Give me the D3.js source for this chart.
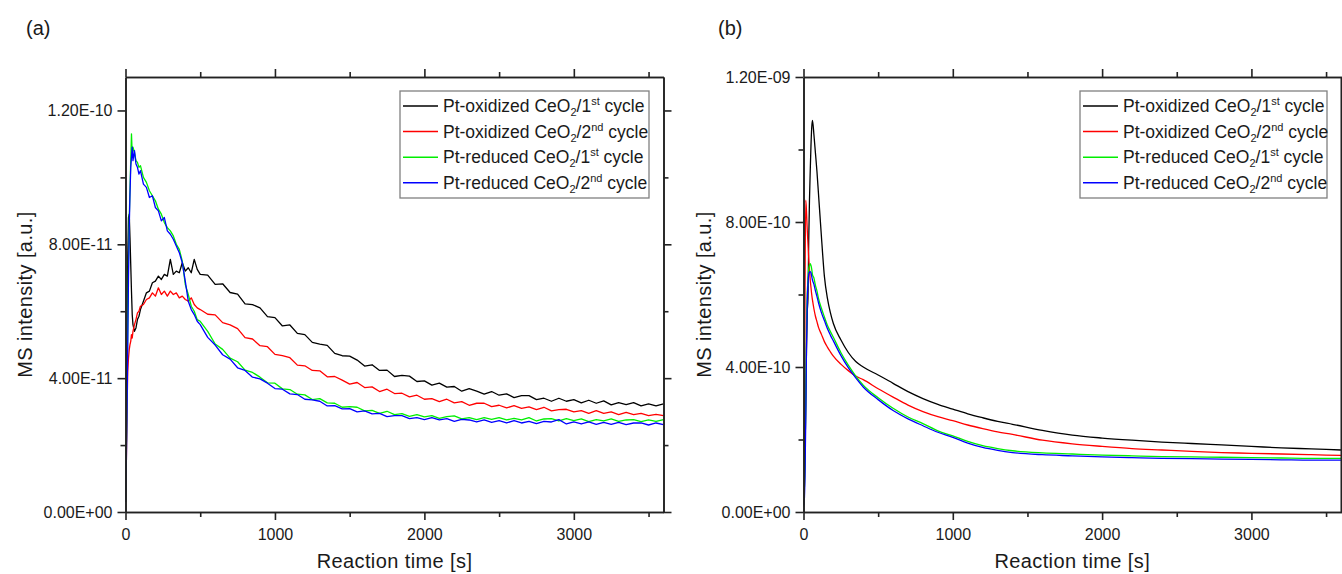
<!DOCTYPE html>
<html>
<head>
<meta charset="utf-8">
<script src="https://cdn.jsdelivr.net/npm/d3@7"></script>
<style>
  html, body { margin: 0; padding: 0; background: #fff; }
  #chart { width: 1342px; height: 574px; }
  text { font-family: "Liberation Sans", Arial, sans-serif; fill: #1a1a1a; }
</style>
</head>
<body>
<div id="chart"></div>
<script>
// ---- panel (a): values in units of 1E-11 ----
const timeA = [0,5,10,15,20,25,30,35,40,45,50,60,70,80,90,100,
  120,140,160,180,200,220,240,260,280,300,320,340,360,380,400,420,440,460,480,500,
  550,600,650,700,750,800,850,900,950,1000,1050,1100,1150,1200,1250,1300,1350,1400,1450,1500,
  1550,1600,1650,1700,1750,1800,1850,1900,1950,2000,2050,2100,2150,2200,2250,2300,2350,2400,2450,2500,
  2550,2600,2650,2700,2750,2800,2850,2900,2950,3000,3050,3100,3150,3200,3250,3300,3350,3400,3450,3500,
  3550,3600];
const oxid1A = [0.3,1.5,4.5,7.6,8.8,8.9,8.2,7.4,6.6,5.9,5.6,5.4,5.5,5.75,5.85,6.05,
  6.3,6.55,6.6,6.85,6.9,7.05,6.95,7.1,7.05,7.55,7.1,7.2,7.15,7.45,7.2,7.3,7.15,7.55,7.25,7.1,
  7.08,6.80,6.82,6.56,6.51,6.22,6.20,6.10,5.84,5.81,5.56,5.59,5.34,5.30,5.07,5.02,4.98,4.74,4.67,4.66,
  4.54,4.36,4.40,4.23,4.24,4.05,4.08,4.06,3.90,3.92,3.79,3.85,3.73,3.75,3.61,3.69,3.61,3.52,3.60,3.49,
  3.53,3.42,3.48,3.48,3.36,3.40,3.31,3.40,3.31,3.36,3.26,3.34,3.25,3.32,3.20,3.27,3.21,3.27,3.17,3.23,
  3.17,3.23];
const oxid2A = [0.3,1.2,3.0,4.2,4.6,4.85,5.0,5.1,5.3,5.2,5.4,5.6,5.75,5.95,6.0,6.15,
  6.2,6.35,6.4,6.55,6.45,6.7,6.5,6.6,6.45,6.6,6.5,6.55,6.4,6.45,6.35,6.3,6.4,6.2,6.1,6.05,
  5.91,5.89,5.66,5.59,5.48,5.21,5.17,4.97,4.94,4.71,4.67,4.61,4.39,4.37,4.23,4.22,4.04,4.05,3.94,3.82,
  3.87,3.72,3.74,3.60,3.67,3.54,3.55,3.44,3.49,3.37,3.39,3.30,3.37,3.26,3.30,3.19,3.25,3.25,3.15,3.19,
  3.11,3.18,3.10,3.14,3.06,3.13,3.02,3.06,3.07,2.99,3.03,2.95,3.03,2.95,2.99,2.91,2.98,2.91,2.95,2.88,
  2.92,2.88];
const redu1A = [0.3,1.5,3.5,5.5,7.5,8.8,9.6,10.5,11.3,10.7,10.9,10.75,10.5,10.45,10.3,10.35,
  10.0,9.85,9.6,9.45,9.3,9.05,8.9,8.65,8.5,8.4,8.25,8.0,7.85,7.5,6.8,6.5,6.15,6.0,5.75,5.7,
  5.40,5.02,4.86,4.60,4.49,4.24,4.17,4.03,3.86,3.85,3.68,3.66,3.52,3.50,3.36,3.39,3.26,3.25,3.13,3.15,
  3.13,3.02,3.04,2.95,3.01,2.91,2.94,2.86,2.91,2.84,2.88,2.80,2.85,2.87,2.78,2.82,2.76,2.82,2.77,2.82,
  2.75,2.80,2.75,2.82,2.72,2.78,2.79,2.72,2.79,2.73,2.78,2.70,2.76,2.72,2.78,2.71,2.75,2.76,2.70,2.75,
  2.71,2.76];
const redu2A = [0.3,1.2,3.0,5.0,7.0,8.5,9.5,10.3,10.6,10.9,10.5,10.8,10.4,10.3,10.1,10.2,
  9.8,9.7,9.4,9.45,9.1,9.0,8.7,8.8,8.4,8.3,8.15,7.95,7.75,7.45,6.9,6.3,6.05,5.9,5.7,5.6,
  5.22,4.99,4.70,4.57,4.31,4.23,4.03,3.98,3.85,3.69,3.67,3.53,3.51,3.37,3.35,3.31,3.17,3.18,3.08,3.09,
  2.99,3.02,2.93,2.95,2.85,2.88,2.88,2.79,2.82,2.76,2.82,2.75,2.79,2.71,2.77,2.75,2.69,2.75,2.68,2.73,
  2.66,2.73,2.66,2.71,2.64,2.71,2.69,2.76,2.63,2.69,2.63,2.69,2.62,2.68,2.62,2.68,2.61,2.66,2.66,2.60,
  2.66,2.61];

// ---- panel (b): values in units of 1E-10 ----
const timeB = [0,5,10,15,20,25,30,35,40,45,50,55,60,70,80,90,100,120,140,160,180,200,
  250,300,350,400,500,600,700,800,900,1000,1100,1200,1300,1400,1600,1800,2000,2200,2400,2600,2800,3000,3200,3400,3600];
const oxid1B = [0.2,0.5,1.5,3.0,4.5,5.5,5.9,7.5,8.6,9.4,10.1,10.6,10.8,10.4,9.9,9.4,8.8,7.6,6.5,5.9,5.5,5.2,
  4.75,4.4,4.15,4.0,3.78,3.55,3.32,3.13,2.97,2.84,2.71,2.6,2.5,2.42,2.25,2.12,2.04,1.98,1.93,1.89,1.85,1.81,1.77,1.74,1.71];
const oxid2B = [0.2,1.0,6.0,8.6,8.3,7.8,7.4,7.0,6.7,6.4,6.2,6.0,5.85,5.6,5.4,5.25,5.1,4.9,4.7,4.55,4.42,4.3,
  4.08,3.9,3.75,3.65,3.4,3.17,2.95,2.77,2.63,2.52,2.4,2.3,2.21,2.14,1.98,1.88,1.81,1.75,1.71,1.67,1.64,1.62,1.6,1.58,1.56];
const redu1B = [0.2,0.5,1.5,3.0,5.0,6.0,6.4,6.7,6.8,6.85,6.8,6.7,6.55,6.45,6.25,6.1,5.9,5.62,5.38,5.15,4.98,4.82,
  4.4,4.05,3.75,3.5,3.15,2.86,2.62,2.44,2.24,2.1,1.95,1.83,1.75,1.69,1.63,1.6,1.57,1.55,1.53,1.52,1.51,1.5,1.49,1.48,1.48];
const redu2B = [0.15,0.3,1.0,2.5,4.5,5.8,6.3,6.55,6.62,6.63,6.6,6.5,6.4,6.28,6.1,5.95,5.78,5.5,5.28,5.06,4.88,4.72,
  4.32,3.98,3.7,3.45,3.1,2.8,2.57,2.38,2.2,2.06,1.9,1.78,1.7,1.64,1.58,1.55,1.52,1.5,1.48,1.47,1.46,1.45,1.44,1.43,1.43];

// legend parts and colours (same order for both panels)
const legendPrefix = ['Pt-oxidized', 'Pt-oxidized', 'Pt-reduced', 'Pt-reduced'];
const cycleNum = ['1', '2', '1', '2'];
const cycleSup = ['st', 'nd', 'st', 'nd'];
const seriesColors = ['#000000', '#ff0000', '#00ee00', '#0000ff'];

// ticks
const xMajor = [0, 1000, 2000, 3000];
const xMinor = [500, 1500, 2500, 3500];
const xTickLabels = ['0', '1000', '2000', '3000'];
const yMajorA = [0, 4e-11, 8e-11, 1.2e-10];
const yMinorA = [2e-11, 6e-11, 1e-10];
const yTickLabelsA = ['0.00E+00', '4.00E-11', '8.00E-11', '1.20E-10'];
const yMajorB = [0, 4e-10, 8e-10, 1.2e-9];
const yMinorB = [2e-10, 6e-10, 1e-9];
const yTickLabelsB = ['0.00E+00', '4.00E-10', '8.00E-10', '1.20E-09'];

(function(){
  const W = 1342, H = 574;
  const svg = d3.select('#chart').append('svg').attr('width', W).attr('height', H);

  const panels = [
    { tag: '(a)', tagX: 26, titleX: 32, box: {l: 125.5, r: 663.5, t: 77, b: 512},
      time: timeA, series: [oxid1A, oxid2A, redu1A, redu2A], unit: 1e-11, yMax: 1.3e-10,
      yMajor: yMajorA, yMinor: yMinorA, yLabels: yTickLabelsA,
      legend: {x: 400, y: 91, w: 249, h: 107}, curve: d3.curveLinear },
    { tag: '(b)', tagX: 718, titleX: 711, box: {l: 803.5, r: 1341, t: 77, b: 512},
      time: timeB, series: [oxid1B, oxid2B, redu1B, redu2B], unit: 1e-10, yMax: 1.2e-9,
      yMajor: yMajorB, yMinor: yMinorB, yLabels: yTickLabelsB,
      legend: {x: 1080, y: 91, w: 247, h: 107}, curve: d3.curveMonotoneX }
  ];

  function styleAxis(sel) {
    sel.selectAll('.domain, .tick line').attr('stroke', '#222').attr('stroke-width', 1.6);
    sel.selectAll('text').attr('font-size', 16).attr('fill', '#1a1a1a')
      .attr('font-family', '"Liberation Sans", Arial, sans-serif');
  }

  panels.forEach((p, pi) => {
    const b = p.box;
    const x = d3.scaleLinear().domain([0, 3600]).range([b.l, b.r]);
    const y = d3.scaleLinear().domain([0, p.yMax]).range([b.b, b.t]);
    const g = svg.append('g');

    // clip for the curves
    const clipId = 'clip' + pi;
    svg.append('clipPath').attr('id', clipId).append('rect')
      .attr('x', b.l).attr('y', b.t).attr('width', b.r - b.l).attr('height', b.b - b.t);

    // curves
    const line = d3.line().x(d => x(d[0])).y(d => y(d[1])).curve(p.curve);
    const lines = g.append('g').attr('clip-path', `url(#${clipId})`);
    p.series.forEach((s, i) => {
      lines.append('path')
        .datum(p.time.map((t, k) => [t, s[k] * p.unit]))
        .attr('fill', 'none')
        .attr('stroke', seriesColors[i])
        .attr('stroke-width', 1.3)
        .attr('stroke-linejoin', 'round')
        .attr('d', line);
    });

    // axes on four sides, major + minor ticks, all outward
    const ax = g.append('g');
    ax.append('g').attr('transform', `translate(0,${b.b})`)
      .call(d3.axisBottom(x).tickValues(xMajor).tickFormat((d, i) => xTickLabels[i]).tickSize(8).tickSizeOuter(0).tickPadding(9));
    ax.append('g').attr('transform', `translate(0,${b.b})`)
      .call(d3.axisBottom(x).tickValues(xMinor).tickFormat('').tickSize(5).tickSizeOuter(0));
    ax.append('g').attr('transform', `translate(0,${b.t})`)
      .call(d3.axisTop(x).tickValues(xMajor).tickFormat('').tickSize(8).tickSizeOuter(0));
    ax.append('g').attr('transform', `translate(0,${b.t})`)
      .call(d3.axisTop(x).tickValues(xMinor).tickFormat('').tickSize(5).tickSizeOuter(0));
    ax.append('g').attr('transform', `translate(${b.l},0)`)
      .call(d3.axisLeft(y).tickValues(p.yMajor).tickFormat((d, i) => p.yLabels[i]).tickSize(8).tickSizeOuter(0).tickPadding(5));
    ax.append('g').attr('transform', `translate(${b.l},0)`)
      .call(d3.axisLeft(y).tickValues(p.yMinor).tickFormat('').tickSize(5).tickSizeOuter(0));
    ax.append('g').attr('transform', `translate(${b.r},0)`)
      .call(d3.axisRight(y).tickValues(p.yMajor).tickFormat('').tickSize(8).tickSizeOuter(0));
    ax.append('g').attr('transform', `translate(${b.r},0)`)
      .call(d3.axisRight(y).tickValues(p.yMinor).tickFormat('').tickSize(5).tickSizeOuter(0));
    styleAxis(ax);

    // axis titles
    g.append('text').attr('x', (b.l + b.r) / 2).attr('y', 568).attr('text-anchor', 'middle')
      .attr('font-size', 20).attr('letter-spacing', 0.4).text('Reaction time [s]');
    g.append('text').attr('transform', `translate(${p.titleX},${(b.t + b.b) / 2}) rotate(-90)`)
      .attr('text-anchor', 'middle').attr('font-size', 20).attr('letter-spacing', 0.4)
      .text('MS intensity [a.u.]');

    // panel tag
    g.append('text').attr('x', p.tagX).attr('y', 35).attr('font-size', 20).text(p.tag);

    // legend
    const L = p.legend;
    const lg = g.append('g');
    lg.append('rect').attr('x', L.x).attr('y', L.y).attr('width', L.w).attr('height', L.h)
      .attr('fill', '#fff').attr('stroke', '#808080').attr('stroke-width', 1.3);
    legendPrefix.forEach((pre, i) => {
      const ry = L.y + 15 + i * 25.6;
      lg.append('line').attr('x1', L.x + 3).attr('x2', L.x + 38).attr('y1', ry).attr('y2', ry)
        .attr('stroke', seriesColors[i]).attr('stroke-width', 1.5);
      const t = lg.append('text').attr('x', L.x + 43).attr('y', ry + 6).attr('font-size', 17.5);
      t.append('tspan').text(pre + ' CeO');
      t.append('tspan').attr('dy', 4).attr('font-size', 11).text('2');
      t.append('tspan').attr('dy', -4).text('/' + cycleNum[i]);
      t.append('tspan').attr('dy', -7).attr('font-size', 11).text(cycleSup[i]);
      t.append('tspan').attr('dy', 7).text(' cycle');
    });
  });
})();
</script>
</body>
</html>
